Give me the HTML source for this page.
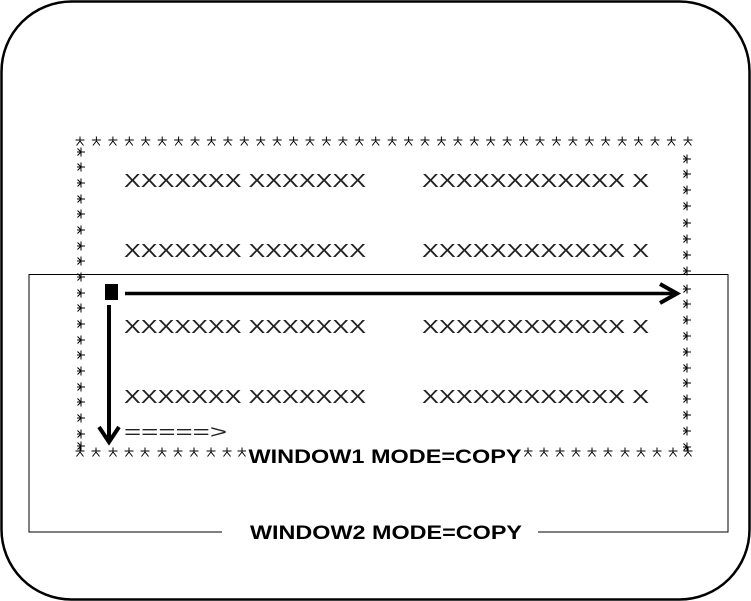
<!DOCTYPE html>
<html><head><meta charset="utf-8"><style>
html,body{margin:0;padding:0;background:#fff;}
svg{display:block;}
.x{font-family:"Liberation Sans",sans-serif;font-size:18px;fill:#222;}
.b{font-family:"Liberation Sans",sans-serif;font-size:19px;font-weight:bold;fill:#000;}
</style></head><body>
<svg width="751" height="601" viewBox="0 0 751 601" xmlns="http://www.w3.org/2000/svg">
<defs>
<path id="s" d="M0,-4.5V1 M-4.5,-1H4.5 M0,0L-3.5,4.5 M0,0L3.5,4.5" stroke="#000" stroke-width="1" fill="none"/>
<path id="v" d="M-4,0H4 M0,-4.5V4.5 M-3.5,-3.5L0,0L-3.5,3.5" stroke="#000" stroke-width="1" fill="none"/>
</defs>
<rect x="1.5" y="1.5" width="748" height="598" rx="70" ry="70" fill="#fff" stroke="#000" stroke-width="2.5"/>
<path d="M222,532H29V274.5H728V532H538" fill="none" stroke="#000" stroke-width="1"/>
<text class="b" x="386" y="539" text-anchor="middle" textLength="272" lengthAdjust="spacingAndGlyphs">WINDOW2 MODE=COPY</text>
<g transform="translate(0,141)">
<use href="#s" x="80"/><use href="#s" x="96.4"/><use href="#s" x="112.9"/><use href="#s" x="129.3"/><use href="#s" x="145.7"/><use href="#s" x="162.2"/><use href="#s" x="178.6"/><use href="#s" x="195"/><use href="#s" x="211.4"/><use href="#s" x="227.9"/><use href="#s" x="244.3"/><use href="#s" x="260.7"/><use href="#s" x="277.2"/><use href="#s" x="293.6"/><use href="#s" x="310"/><use href="#s" x="326.4"/><use href="#s" x="342.9"/><use href="#s" x="359.3"/><use href="#s" x="375.7"/><use href="#s" x="392.2"/><use href="#s" x="408.6"/><use href="#s" x="425"/><use href="#s" x="441.4"/><use href="#s" x="457.9"/><use href="#s" x="474.3"/><use href="#s" x="490.7"/><use href="#s" x="507.2"/><use href="#s" x="523.6"/><use href="#s" x="540"/><use href="#s" x="556.4"/><use href="#s" x="572.9"/><use href="#s" x="589.3"/><use href="#s" x="605.7"/><use href="#s" x="622.2"/><use href="#s" x="638.6"/><use href="#s" x="655"/><use href="#s" x="671.4"/><use href="#s" x="687.9"/>
</g>
<g transform="translate(0,452)">
<use href="#s" x="80"/><use href="#s" x="96"/><use href="#s" x="113"/><use href="#s" x="129"/><use href="#s" x="145"/><use href="#s" x="162"/><use href="#s" x="178"/><use href="#s" x="194"/><use href="#s" x="211"/><use href="#s" x="227"/><use href="#s" x="242"/>
<use href="#s" x="528"/><use href="#s" x="544"/><use href="#s" x="560"/><use href="#s" x="576"/><use href="#s" x="592"/><use href="#s" x="608"/><use href="#s" x="625"/><use href="#s" x="641"/><use href="#s" x="657"/><use href="#s" x="673"/><use href="#s" x="688"/>
</g>
<g transform="translate(81,0)">
<use href="#v" y="152"/><use href="#v" y="167"/><use href="#v" y="183"/><use href="#v" y="199"/><use href="#v" y="214"/><use href="#v" y="230"/><use href="#v" y="246"/><use href="#v" y="261"/><use href="#v" y="277"/><use href="#v" y="293"/><use href="#v" y="308"/><use href="#v" y="324"/><use href="#v" y="340"/><use href="#v" y="355"/><use href="#v" y="371"/><use href="#v" y="387"/><use href="#v" y="402"/><use href="#v" y="418"/><use href="#v" y="434"/><use href="#v" y="446"/>
</g>
<g transform="translate(687,0)">
<use href="#v" y="159"/><use href="#v" y="174"/><use href="#v" y="190"/><use href="#v" y="206"/><use href="#v" y="223"/><use href="#v" y="239"/><use href="#v" y="255"/><use href="#v" y="271"/><use href="#v" y="289"/><use href="#v" y="304"/><use href="#v" y="320"/><use href="#v" y="336"/><use href="#v" y="352"/><use href="#v" y="368"/><use href="#v" y="383"/><use href="#v" y="399"/><use href="#v" y="415"/><use href="#v" y="431"/><use href="#v" y="447"/>
</g>
<g class="x">
<text x="124" y="187" textLength="242" lengthAdjust="spacingAndGlyphs">XXXXXXX XXXXXXX</text>
<text x="422" y="187" textLength="227" lengthAdjust="spacingAndGlyphs">XXXXXXXXXXXX X</text>
<text x="124" y="257" textLength="242" lengthAdjust="spacingAndGlyphs">XXXXXXX XXXXXXX</text>
<text x="422" y="257" textLength="227" lengthAdjust="spacingAndGlyphs">XXXXXXXXXXXX X</text>
<text x="124" y="333" textLength="242" lengthAdjust="spacingAndGlyphs">XXXXXXX XXXXXXX</text>
<text x="422" y="333" textLength="227" lengthAdjust="spacingAndGlyphs">XXXXXXXXXXXX X</text>
<text x="124" y="403" textLength="242" lengthAdjust="spacingAndGlyphs">XXXXXXX XXXXXXX</text>
<text x="422" y="403" textLength="227" lengthAdjust="spacingAndGlyphs">XXXXXXXXXXXX X</text>
<text x="124" y="438" textLength="103" lengthAdjust="spacingAndGlyphs">=====&gt;</text>
</g>
<rect x="105" y="284" width="13" height="16" fill="#000"/>
<path d="M125,293.5H675" stroke="#000" stroke-width="3.5"/>
<path d="M660,284L677,293.5L660,303" stroke="#000" stroke-width="4" fill="none"/>
<path d="M109,305V440" stroke="#000" stroke-width="4"/>
<path d="M99,427L109,442L119,427" stroke="#000" stroke-width="4" fill="none"/>
<rect x="246" y="444" width="278" height="20" fill="#fff"/>
<text class="b" x="385" y="463" text-anchor="middle" textLength="273" lengthAdjust="spacingAndGlyphs">WINDOW1 MODE=COPY</text>
</svg>
</body></html>
